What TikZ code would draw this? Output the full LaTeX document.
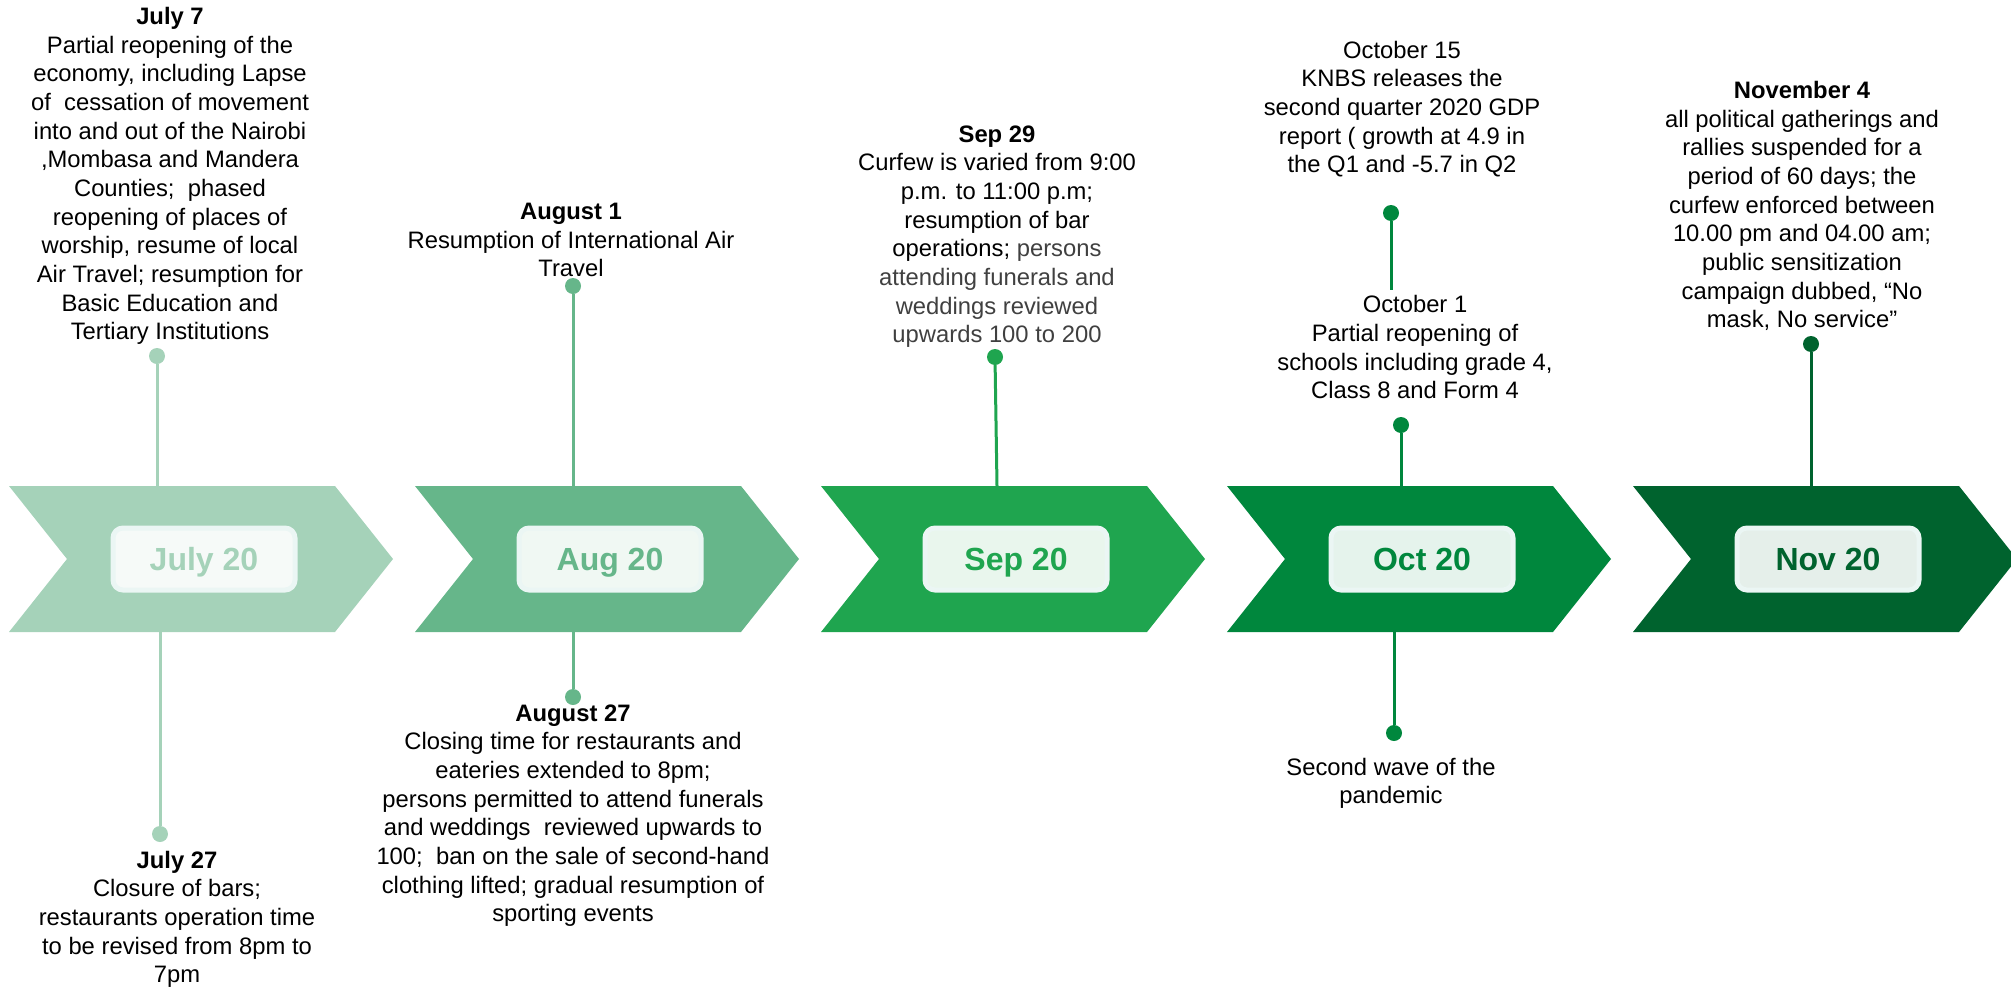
\documentclass[tikz,border=0pt]{standalone}
\usepackage{fontspec}
\setmainfont{Liberation Sans}
\usepackage{xcolor}
\usepackage{tikz}
\usetikzlibrary{positioning}

\definecolor{chevJul}{HTML}{A5D2B9}
\definecolor{chevAug}{HTML}{66B68A}
\definecolor{chevSep}{HTML}{1FA54F}
\definecolor{chevOct}{HTML}{00873D}
\definecolor{chevNov}{HTML}{00632E}
\definecolor{boxEdge}{HTML}{EBF6F4}
\definecolor{softText}{HTML}{404040}

\begin{document}
\begin{tikzpicture}[
    x=1pt, y=-1pt,
    month/.style={rectangle, rounded corners=10pt, draw=boxEdge, line width=5pt, fill=#1!10!white, text=#1, font=\fontsize{32}{38}\selectfont\bfseries, minimum width=182pt, minimum height=62pt, text height=23pt, text depth=0pt},
    stem/.style={draw=#1, line width=3pt},
    dot/.style={circle, fill=#1, inner sep=0pt, minimum size=16pt},
    event/.style={align=center, inner sep=0pt, anchor=south, text depth=0pt, font=\fontsize{23.8}{28.65}\selectfont}
]
    \useasboundingbox (0,0) rectangle (2011,988);

    % Chevrons
    \fill[chevJul] (9,486) -- ++(326,0) -- ++(58,73) -- ++(-58,73) -- ++(-326,0) -- ++(58,-73) -- cycle;
    \fill[chevAug] (415,486) -- ++(326,0) -- ++(58,73) -- ++(-58,73) -- ++(-326,0) -- ++(58,-73) -- cycle;
    \fill[chevSep] (821,486) -- ++(326,0) -- ++(58,73) -- ++(-58,73) -- ++(-326,0) -- ++(58,-73) -- cycle;
    \fill[chevOct] (1227,486) -- ++(326,0) -- ++(58,73) -- ++(-58,73) -- ++(-326,0) -- ++(58,-73) -- cycle;
    \fill[chevNov] (1633,486) -- ++(326,0) -- ++(58,73) -- ++(-58,73) -- ++(-326,0) -- ++(58,-73) -- cycle;

    % Month labels
    \node[month=chevJul] (jul) at (204,559) {July 20};
    \node[month=chevAug] (aug) at (610,559) {Aug 20};
    \node[month=chevSep] (sep) at (1016,559) {Sep 20};
    \node[month=chevOct] (oct) at (1422,559) {Oct 20};
    \node[month=chevNov] (nov) at (1828,559) {Nov 20};

    % July
    \coordinate (jul7top) at (157,486);
    \node[dot=chevJul] (jul7dot) at (157,356) {};
    \draw[stem=chevJul] (jul7dot) -- (jul7top);
    \node[event] (jul7) at (170,340) {\textbf{July 7}\\Partial reopening of the\\economy, including Lapse\\of\ \ cessation of movement\\into and out of the Nairobi\\,Mombasa and Mandera\\Counties;\ \ phased\\reopening of places of\\worship, resume of local\\Air Travel; resumption for\\Basic Education and\\Tertiary Institutions};

    \coordinate (jul27bot) at (160,632);
    \node[dot=chevJul] (jul27dot) at (160,834) {};
    \draw[stem=chevJul] (jul27bot) -- (jul27dot);
    \node[event] (jul27) at (177,983) {\textbf{July 27}\\Closure of bars;\\restaurants operation time\\to be revised from 8pm to\\7pm};

    % August
    \coordinate (aug1top) at (573,486);
    \node[dot=chevAug] (aug1dot) at (573,286) {};
    \draw[stem=chevAug] (aug1dot) -- (aug1top);
    \node[event] (aug1) at (571,277) {\textbf{August 1}\\Resumption of International Air\\Travel};

    \coordinate (aug27bot) at (573,632);
    \node[dot=chevAug] (aug27dot) at (573,697) {};
    \draw[stem=chevAug] (aug27bot) -- (aug27dot);
    \node[event] (aug27) at (573,922) {\textbf{August 27}\\Closing time for restaurants and\\eateries extended to 8pm;\\persons permitted to attend funerals\\and weddings\ \ reviewed upwards to\\100;\ \ ban on the sale of second-hand\\clothing lifted; gradual resumption of\\sporting events};

    % September
    \coordinate (sep29top) at (997,486);
    \node[dot=chevSep] (sep29dot) at (995,357) {};
    \draw[stem=chevSep] (sep29dot) -- (sep29top);
    \node[event] (sep29) at (997,343) {\textbf{Sep 29}\\Curfew is varied from 9:00\\p.m. to 11:00 p.m;\\resumption of bar\\operations; {\color{softText}persons}\\{\color{softText}attending funerals and}\\{\color{softText}weddings reviewed}\\{\color{softText}upwards 100 to 200}};

    % October
    \coordinate (oct15end) at (1391,290);
    \node[dot=chevOct] (oct15dot) at (1391,213) {};
    \draw[stem=chevOct] (oct15dot) -- (oct15end);
    \node[event] (oct15) at (1402,173) {October 15\\KNBS releases the\\second quarter 2020 GDP\\report ( growth at 4.9 in\\the Q1 and -5.7 in Q2};

    \coordinate (oct1top) at (1401,486);
    \node[dot=chevOct] (oct1dot) at (1401,425) {};
    \draw[stem=chevOct] (oct1dot) -- (oct1top);
    \node[event] (oct1) at (1415,399) {October 1\\Partial reopening of\\schools including grade 4,\\Class 8 and Form 4};

    \coordinate (wavebot) at (1394,632);
    \node[dot=chevOct] (wavedot) at (1394,733) {};
    \draw[stem=chevOct] (wavebot) -- (wavedot);
    \node[event] (wave) at (1391,804) {Second wave of the\\pandemic};

    % November
    \coordinate (nov4top) at (1811,486);
    \node[dot=chevNov] (nov4dot) at (1811,344) {};
    \draw[stem=chevNov] (nov4dot) -- (nov4top);
    \node[event] (nov4) at (1802,328) {\textbf{November 4}\\all political gatherings and\\rallies suspended for a\\period of 60 days; the\\curfew enforced between\\10.00 pm and 04.00 am;\\public sensitization\\campaign dubbed, “No\\mask, No service”};
\end{tikzpicture}
\end{document}
